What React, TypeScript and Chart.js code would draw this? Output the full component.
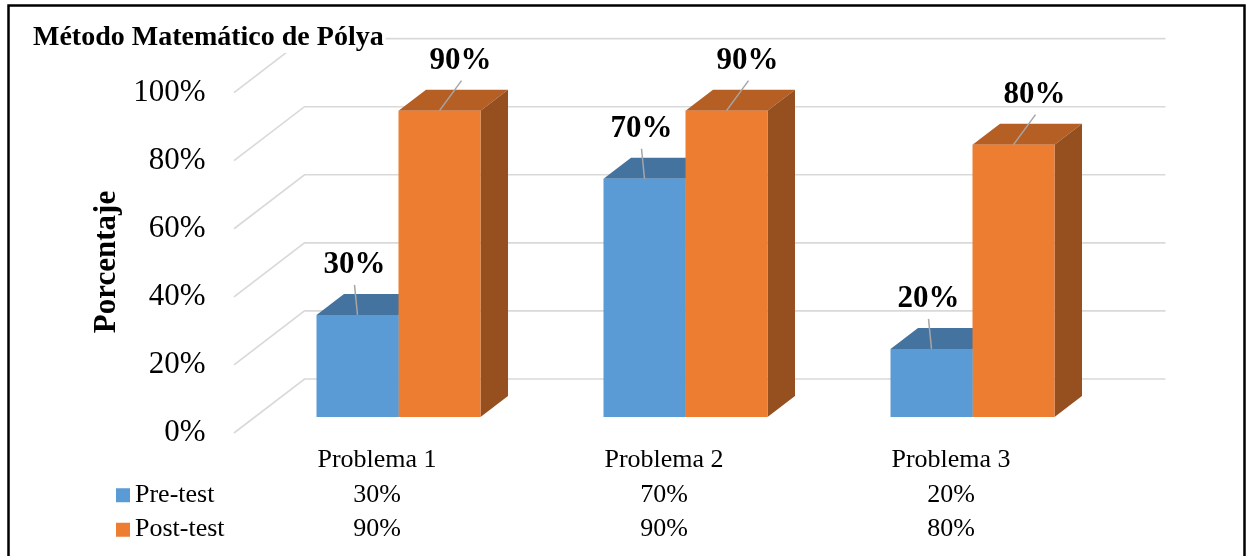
import React, { useEffect, useRef } from "react";
import { Chart, registerables } from "chart.js";

Chart.register(...registerables);

// ---- data ----
const chartTitle = "Método Matemático de Pólya";
const yAxisTitle = "Porcentaje";
const categories = ["Problema 1", "Problema 2", "Problema 3"];
const seriesNames = ["Pre-test", "Post-test"];
const preTest = [30, 70, 20];
const postTest = [90, 90, 80];
const yTickValues = [0, 20, 40, 60, 80, 100];

// ---- styles ----
const FONT = "'Liberation Serif', 'Times New Roman', Times, serif";
const FRONT = ["#5B9BD5", "#ED7D31"];
const TOP = ["#44739F", "#B65F25"];
const SIDE = ["#3A6590", "#964F1F"];
const GRID = "#D9D9D9";
const LEADER = "#A6A6A6";
const BAR_DEPTH = { dx: 27.5, dy: -21 };
const FLOOR_FRONT = { dx: -21, dy: 16 };
const BACK_WALL = { dx: 49.5, dy: -38 };
const TABLE_LH = 34.5;
const TABLE_PAD = 26;
const LABEL_DX = [-3, 21];
const LEADER_DX = [-3, 22];

function poly(ctx: CanvasRenderingContext2D, pts: number[][]) {
  ctx.beginPath();
  ctx.moveTo(pts[0][0], pts[0][1]);
  for (let i = 1; i < pts.length; i++) ctx.lineTo(pts[i][0], pts[i][1]);
  ctx.closePath();
  ctx.fill();
}

const pseudo3d = {
  id: "pseudo3d",
  beforeDraw(chart: any) {
    const { ctx, chartArea, scales } = chart;
    ctx.save();
    ctx.fillStyle = "#ffffff";
    ctx.fillRect(0, 0, chart.width, chart.height);
    ctx.strokeStyle = GRID;
    ctx.lineWidth = 1.6;
    const ys = scales.y;
    ys.ticks.forEach((t: any) => {
      const py = ys.getPixelForValue(t.value);
      ctx.beginPath();
      ctx.moveTo(chartArea.left + FLOOR_FRONT.dx, py + FLOOR_FRONT.dy);
      ctx.lineTo(chartArea.left + BACK_WALL.dx, py + BACK_WALL.dy);
      ctx.lineTo(chartArea.right + BACK_WALL.dx, py + BACK_WALL.dy);
      ctx.stroke();
    });
    // white box behind the title text
    ctx.font = `bold 28px ${FONT}`;
    const w = ctx.measureText(chartTitle).width;
    ctx.fillStyle = "#ffffff";
    ctx.fillRect(31, 23, w + 4, 30);
    ctx.restore();
  },
  beforeDatasetsDraw(chart: any) {
    const { ctx } = chart;
    ctx.save();
    chart.data.datasets.forEach((_ds: any, di: number) => {
      const meta = chart.getDatasetMeta(di);
      meta.data.forEach((el: any) => {
        const { x, y, base, width } = el.getProps(["x", "y", "base", "width"], true);
        const x0 = x - width / 2;
        const x1 = x + width / 2;
        const { dx, dy } = BAR_DEPTH;
        ctx.fillStyle = TOP[di];
        poly(ctx, [[x0, y], [x1, y], [x1 + dx, y + dy], [x0 + dx, y + dy]]);
        ctx.fillStyle = SIDE[di];
        poly(ctx, [[x1, y], [x1 + dx, y + dy], [x1 + dx, base + dy], [x1, base]]);
      });
    });
    ctx.restore();
  },
  afterDatasetsDraw(chart: any) {
    const { ctx } = chart;
    ctx.save();
    chart.data.datasets.forEach((ds: any, di: number) => {
      const meta = chart.getDatasetMeta(di);
      meta.data.forEach((el: any, i: number) => {
        const { x, y } = el.getProps(["x", "y"], true);
        ctx.strokeStyle = LEADER;
        ctx.lineWidth = 1.5;
        ctx.beginPath();
        ctx.moveTo(x, y);
        ctx.lineTo(x + LEADER_DX[di], y - 30);
        ctx.stroke();
        ctx.fillStyle = "#000";
        ctx.font = `bold 31px ${FONT}`;
        ctx.textAlign = "center";
        ctx.textBaseline = "middle";
        ctx.fillText(ds.data[i] + "%", x + LABEL_DX[di], y - 50);
      });
    });
    ctx.restore();
  },
  afterDraw(chart: any) {
    const { ctx, scales } = chart;
    ctx.save();
    // legend keys of the data table
    const xs = scales.x;
    const firstLine = xs.top + TABLE_PAD + TABLE_LH / 2;
    chart.data.datasets.forEach((ds: any, di: number) => {
      const cy = firstLine + (di + 1) * TABLE_LH;
      ctx.fillStyle = FRONT[di];
      ctx.fillRect(116, cy - 6.5, 14, 14);
      ctx.fillStyle = "#000";
      ctx.font = `26px ${FONT}`;
      ctx.textAlign = "left";
      ctx.textBaseline = "middle";
      ctx.fillText(ds.label, 135, cy);
    });
    // y axis title
    ctx.translate(107, 262);
    ctx.rotate(-Math.PI / 2);
    ctx.font = `bold 31px ${FONT}`;
    ctx.textAlign = "center";
    ctx.textBaseline = "middle";
    ctx.fillStyle = "#000";
    ctx.fillText(yAxisTitle, 0, 0);
    ctx.setTransform(1, 0, 0, 1, 0, 0);
    // frame
    ctx.strokeStyle = "#000";
    ctx.lineWidth = 2.5;
    ctx.strokeRect(8.5, 5.5, 1236, 600);
    ctx.restore();
  },
};

export default function App() {
  const ref = useRef<HTMLCanvasElement>(null);
  useEffect(() => {
    if (!ref.current) return;
    Chart.defaults.font.family = FONT;
    const xLabels = categories.map((c, i) => [c, preTest[i] + "%", postTest[i] + "%"]);
    const chart = new Chart(ref.current, {
      type: "bar",
      data: {
        labels: xLabels as any,
        datasets: [
          { label: seriesNames[0], data: preTest, backgroundColor: FRONT[0], borderWidth: 0 },
          { label: seriesNames[1], data: postTest, backgroundColor: FRONT[1], borderWidth: 0 },
        ],
      },
      options: {
        responsive: false,
        devicePixelRatio: 1,
        animation: false,
        layout: { padding: { left: 33, right: 130, top: 0, bottom: 0 } },
        datasets: { bar: { barPercentage: 1, categoryPercentage: 164 / 287 } },
        plugins: {
          legend: { display: false },
          tooltip: { enabled: false },
          title: {
            display: true,
            text: chartTitle,
            align: "start",
            color: "#000",
            font: { family: FONT, size: 28, weight: "bold", lineHeight: 1.2 },
            padding: { top: 21, bottom: 22 },
          },
        },
        scales: {
          x: {
            grid: { display: false, drawTicks: false },
            border: { display: false },
            ticks: {
              color: "#000",
              font: { family: FONT, size: 26, lineHeight: TABLE_LH / 26 },
              padding: TABLE_PAD,
              labelOffset: -21.5,
              maxRotation: 0,
              autoSkip: false,
            },
            afterFit: (s: any) => {
              s.height = 139;
            },
          },
          y: {
            min: 0,
            max: 100,
            grid: { display: false, drawTicks: false },
            border: { display: false },
            afterBuildTicks: (s: any) => {
              s.ticks = yTickValues.map((v) => ({ value: v }));
            },
            ticks: {
              color: "#000",
              font: { family: FONT, size: 31 },
              padding: 49.5,
              labelOffset: 16,
              autoSkip: false,
              callback: (v: any) => v + "%",
            },
            afterFit: (s: any) => {
              s.width = 222;
            },
          },
        },
      },
      plugins: [pseudo3d],
    });
    return () => chart.destroy();
  }, []);
  return (
    <div style={{ position: "fixed", left: 0, top: 0, width: 1246, height: 556, background: "#fff" }}>
      <canvas ref={ref} width={1246} height={556} style={{ display: "block" }} />
    </div>
  );
}
